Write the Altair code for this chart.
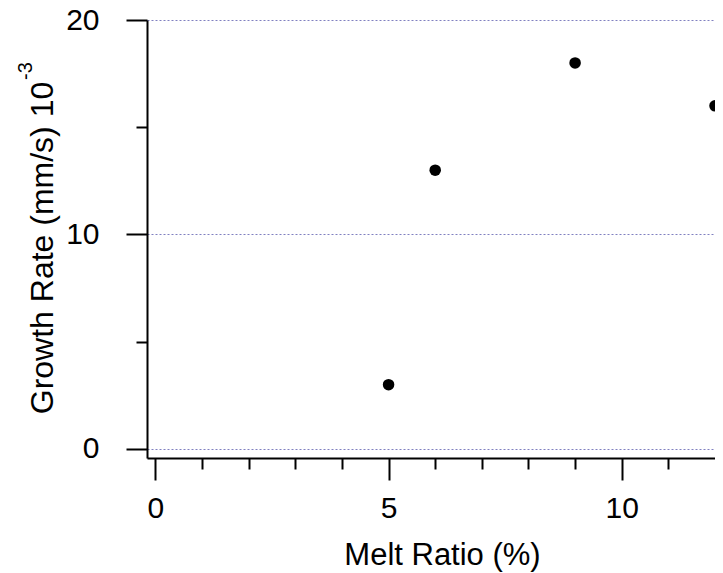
import altair as alt
import pandas as pd

# data
melt_ratio = [5, 6, 9, 12]
growth_rate = [3, 13, 18, 16]
x_tick_values = list(range(0, 12))
y_tick_values = [0, 5, 10, 15, 20]

df = pd.DataFrame({"melt": melt_ratio, "rate": growth_rate})

FONT = "Liberation Sans"

x_scale = alt.Scale(domain=[-0.18, 12.0], nice=False, zero=False)
y_scale = alt.Scale(domain=[-0.42, 20], nice=False, zero=False)

points = alt.Chart(df).mark_circle(size=133, color="black", opacity=1).encode(
    x=alt.X(
        "melt:Q",
        scale=x_scale,
        axis=alt.Axis(
            values=x_tick_values,
            grid=False,
            title="Melt Ratio (%)",
            titleFont=FONT,
            titleFontSize=31,
            titleFontWeight="normal",
            titleColor="black",
            titleX=295,
            titleY=106,
            titleAlign="center",
            titleBaseline="alphabetic",
            labelExpr="datum.value % 5 === 0 ? datum.label : ''",
            labelFont=FONT,
            labelFontSize=30,
            labelColor="black",
            labelPadding=13,
            labelBaseline="top",
            tickSize={"condition": {"test": "datum.value % 5 === 0", "value": 22}, "value": 11},
            tickColor="black",
            tickWidth=2,
            domainColor="black",
            domainWidth=2,
        ),
    ),
    y=alt.Y(
        "rate:Q",
        scale=y_scale,
        axis=alt.Axis(
            values=y_tick_values,
            title=None,
            grid=True,
            gridColor="#8080c0",
            gridDash=[2, 2],
            gridWidth=1,
            gridOpacity={"condition": {"test": "datum.value % 10 === 0", "value": 1}, "value": 0},
            labelExpr="datum.value % 10 === 0 ? datum.label : ''",
            labelFont=FONT,
            labelFontSize=30,
            labelColor="black",
            labelPadding=27,
            tickSize={"condition": {"test": "datum.value % 10 === 0", "value": 21}, "value": 11},
            tickColor="black",
            tickWidth=2,
            domainColor="black",
            domainWidth=2,
        ),
    ),
)

anchor = pd.DataFrame({"a": [0]})

y_title = alt.Chart(anchor).mark_text(
    text="Growth Rate (mm/s) 10",
    font=FONT,
    fontSize=32,
    angle=270,
    align="center",
    baseline="alphabetic",
    color="black",
).encode(x=alt.value(-94), y=alt.value(228))

y_title_sup = alt.Chart(anchor).mark_text(
    text="-3",
    font=FONT,
    fontSize=20,
    angle=270,
    align="center",
    baseline="alphabetic",
    color="black",
).encode(x=alt.value(-115), y=alt.value(51))

chart = alt.layer(points, y_title, y_title_sup).properties(
    width=568,
    height=438,
    autosize=alt.AutoSizeParams(type="none"),
    padding={"left": 139, "top": 12, "right": 0, "bottom": 114},
).configure_view(stroke=None)

chart.save("out.html", embed_options={"renderer": "svg", "actions": False})
